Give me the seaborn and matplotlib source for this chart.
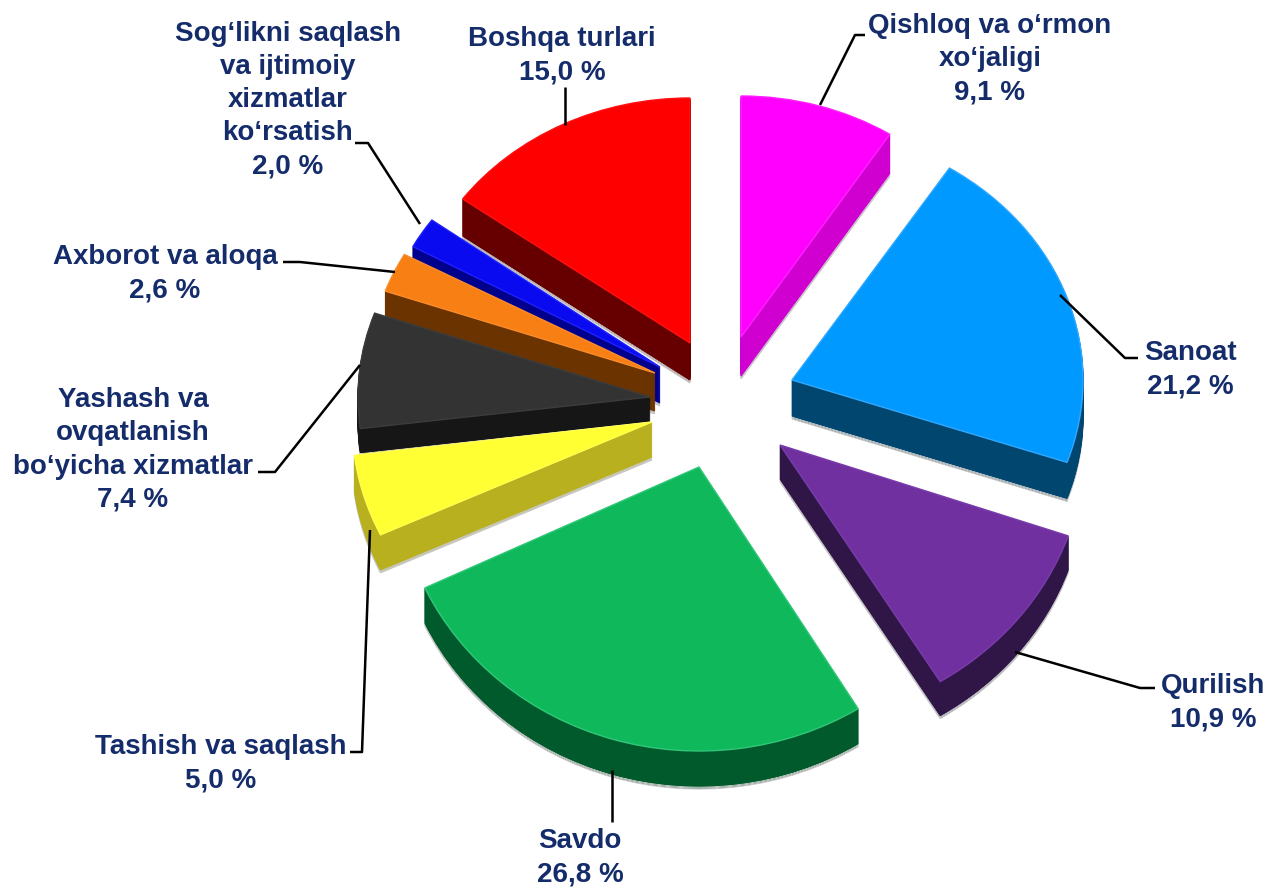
import matplotlib
matplotlib.use('Agg')
import matplotlib.pyplot as plt
from matplotlib.transforms import Affine2D
import seaborn as sns

# ulushlar, foizda
sectors = ['Qishloq va o‘rmon\nxo‘jaligi', 'Sanoat', 'Qurilish', 'Savdo', 'Tashish va saqlash',
           'Yashash va\novqatlanish\nbo‘yicha xizmatlar', 'Axborot va aloqa',
           'Sog‘likni saqlash\nva ijtimoiy\nxizmatlar\nko‘rsatish', 'Boshqa turlari']
shares = [9.1, 21.2, 10.9, 26.8, 5.0, 7.4, 2.6, 2.0, 15.0]

top_colors = ['#FF00FF', '#0099FF', '#7030A0', '#10B85C', '#FFFF33', '#333333', '#F87F14', '#0A0AF0', '#FF0000']
side_colors = ['#D000D0', '#00466F', '#2F1647', '#005A2C', '#B8B01E', '#161616', '#6B3300', '#00008C', '#660000']
rim_colors = ['#FF20FF', '#30A8FF', '#7A3CAC', '#30C878', '#FFFF50', '#3C3C3C', '#FA8C2C', '#2020FF', '#FF1010']

# har bir bo'lakning joyi va perspektivasi (piksel)
apex_x = [741, 792, 780, 699, 652, 650, 655, 660, 690]
apex_y = [337, 380, 445, 467, 422, 397, 373, 367, 343]
radius_x = [275, 291, 305, 303, 300, 292, 286, 282, 281]
radius_y = [241, 252, 278, 284, 265, 252, 246, 250, 245]
depths = [39, 36, 34, 35, 35, 24, 38, 36, 37]

label_xy = [(990, 59), (1190, 370), (1213, 703), (580, 858), (221, 764),
            (133, 450), (165, 274), (288, 100), (562, 56)]
leaders = [[(820, 105), (855, 35), (865, 35)],
           [(1060, 295), (1125, 358), (1138, 358)],
           [(1015, 652), (1140, 688), (1155, 688)],
           [(612, 770), (612, 822)],
           [(370, 530), (362, 752), (350, 752)],
           [(360, 365), (275, 472), (258, 472)],
           [(395, 272), (300, 262), (283, 262)],
           [(420, 224), (368, 143), (355, 143)],
           [(565, 125), (565, 87)]]

sns.set_theme(style='white')
plt.rcParams['font.family'] = ['Liberation Sans', 'DejaVu Sans']

W, H = 1273, 888
fig = plt.figure(figsize=(W / 100, H / 100), dpi=100, facecolor='white')
ax = fig.add_axes([0, 0, 1, 1])


def place(wedges, drop, zorder):
    for i, w in enumerate(wedges):
        tr = Affine2D().scale(radius_x[i], -radius_y[i]).translate(apex_x[i], apex_y[i] + drop)
        w.set_transform(tr + ax.transData)
        w.set_zorder(zorder)


# yon tomonlar: pastdan yuqoriga, oxirida kulrang soya
for d in range(max(depths) + 3, 0, -1):
    wedges, _ = ax.pie(shares, colors=side_colors, startangle=90, counterclock=False)
    place(wedges, d, 1)
    for w, col, dep in zip(wedges, side_colors, depths):
        if d > dep:
            col = '#C9C9C9'
        w.set_edgecolor(col)
        w.set_linewidth(0.8)
        w.set_visible(d <= dep + 3)
        if d > dep:
            w.set_zorder(0.5)

tops, _ = ax.pie(shares, colors=top_colors, startangle=90, counterclock=False, wedgeprops=dict(linewidth=1.0))
place(tops, 0, 3)
for w, col in zip(tops, rim_colors):
    w.set_edgecolor(col)

ax.set_aspect('auto')

for name, val, (x, y), pts in zip(sectors, shares, label_xy, leaders):
    txt = f"{name}\n{val:.1f} %".replace('.', ',')
    ax.text(x, y, txt, ha='center', va='center', fontsize=20, fontweight='bold',
            color='#152C6B', linespacing=1.36, zorder=5)
    ax.plot([p[0] for p in pts], [p[1] for p in pts], color='black', lw=1.8, solid_capstyle='butt', zorder=4)

ax.set_xlim(0, W)
ax.set_ylim(H, 0)
fig.savefig('out.png', dpi=100)
